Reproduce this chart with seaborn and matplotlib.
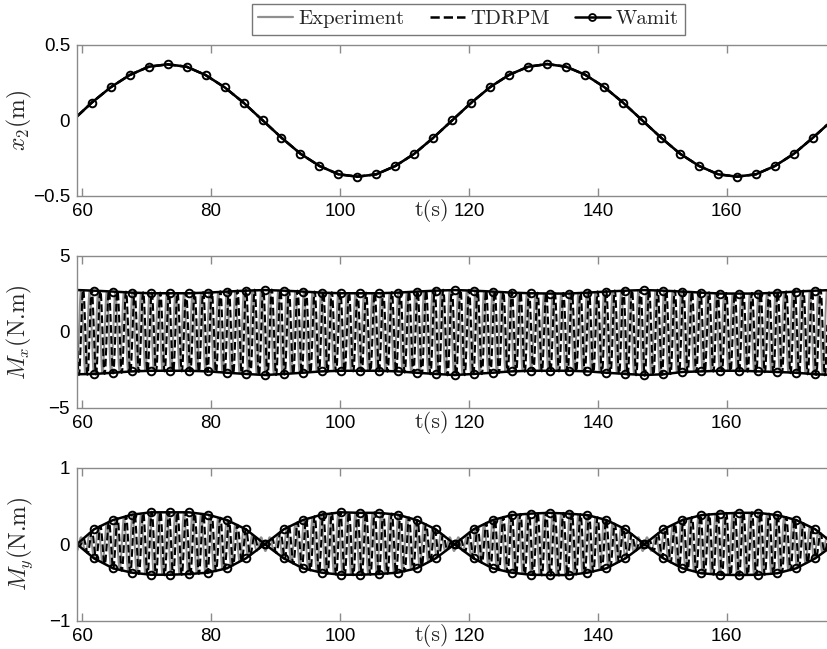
import numpy as np
import pandas as pd
import matplotlib
matplotlib.use("Agg")
import matplotlib.pyplot as plt
import seaborn as sns
from matplotlib.lines import Line2D

# ---------------- data ----------------
x_view = [59.22, 176.0]            # visible time window (s)
edge_t = [59.22, 175.6]            # times where the curves meet the plot edges

# Wamit marker sampling
x2_marker_t0 = 61.50
m_marker_t0 = 61.86
marker_dt = 2.944

# x2 (m) at the Wamit markers
x2_markers = [0.116, 0.218, 0.299, 0.354, 0.370, 0.354, 0.299, 0.218, 0.116, 0.0,
              -0.116, -0.222, -0.303, -0.358, -0.374, -0.358, -0.303, -0.222, -0.116, 0.0,
              0.116, 0.220, 0.301, 0.354, 0.372, 0.354, 0.301, 0.220, 0.116, 0.0,
              -0.116, -0.222, -0.303, -0.358, -0.374, -0.358, -0.303, -0.222, -0.116]
x2_edges = [0.025, -0.03]

# Mx (N.m) Wamit envelope at the markers
mx_upper = [2.70, 2.64, 2.57, 2.53, 2.53, 2.53, 2.57, 2.64, 2.70, 2.74,
            2.70, 2.64, 2.57, 2.53, 2.53, 2.53, 2.57, 2.64, 2.70, 2.74,
            2.70, 2.64, 2.57, 2.53, 2.51, 2.51, 2.57, 2.64, 2.70, 2.74,
            2.70, 2.64, 2.57, 2.51, 2.51, 2.51, 2.57, 2.64, 2.70]
mx_lower = [-2.78, -2.70, -2.61, -2.57, -2.57, -2.57, -2.61, -2.70, -2.78, -2.85,
            -2.78, -2.70, -2.61, -2.57, -2.57, -2.57, -2.61, -2.70, -2.78, -2.85,
            -2.78, -2.70, -2.61, -2.57, -2.57, -2.57, -2.61, -2.70, -2.78, -2.85,
            -2.80, -2.65, -2.61, -2.57, -2.57, -2.61, -2.65, -2.70, -2.80]
mx_upper_edges = [2.74, 2.73]
mx_lower_edges = [-2.80, -2.83]

# My (N.m) Wamit envelope at the markers
my_upper = [0.195, 0.316, 0.386, 0.417, 0.417, 0.417, 0.386, 0.316, 0.195, 0.0,
            0.195, 0.316, 0.386, 0.417, 0.410, 0.410, 0.386, 0.316, 0.195, 0.0,
            0.195, 0.316, 0.380, 0.400, 0.410, 0.400, 0.380, 0.316, 0.195, 0.0,
            0.195, 0.316, 0.380, 0.400, 0.410, 0.410, 0.380, 0.316, 0.195]
my_lower = [-0.185, -0.315, -0.372, -0.399, -0.399, -0.390, -0.372, -0.315, -0.185, 0.0,
            -0.185, -0.315, -0.372, -0.399, -0.399, -0.390, -0.372, -0.315, -0.185, 0.0,
            -0.185, -0.315, -0.372, -0.399, -0.403, -0.403, -0.372, -0.315, -0.185, 0.0,
            -0.185, -0.315, -0.380, -0.399, -0.403, -0.399, -0.380, -0.315, -0.185]
my_upper_edges = [0.0, 0.07]
my_lower_edges = [0.0, -0.07]

# fast oscillation of the measured / TDRPM moments
carrier_period = 1.33      # s
tdrpm_lag = 0.33           # s
my_exp_floor = 0.09        # residual experiment amplitude at the nodes

xticks = [60, 80, 100, 120, 140, 160]
x2_yticks, x2_yticklabels = [-0.5, 0, 0.5], ["\u22120.5", "0", "0.5"]
mx_yticks, mx_yticklabels = [-5, 0, 5], ["\u22125", "0", "5"]
my_yticks, my_yticklabels = [-1, 0, 1], ["\u22121", "0", "1"]
legend_labels = ["Experiment", "TDRPM", "Wamit"]
ylabels = [r"$x_2$(m)", r"$M_x$(N.m)", r"$M_y$(N.m)"]
xlabel = "t(s)"

# ---------------- style ----------------
sns.set_style("white")
plt.rcParams["font.family"] = ["Liberation Sans", "DejaVu Sans"]
plt.rcParams["mathtext.fontset"] = "cm"
spine_col = "#8a8a8a"
exp_col = "#8f8f8f"
serif = "cmr10"

fig = plt.figure(figsize=(8.27, 6.49), dpi=100)
W, H = 827.0, 649.0
px_per_s = 6.447
left_px = 77.0
right_px = left_px + (x_view[1] - x_view[0]) * px_per_s
rows = [(44.7, 195.7), (255.7, 407.7), (467.7, 620.7)]
axes = []
for top, bot in rows:
    ax = fig.add_axes([left_px / W, 1 - bot / H, (right_px - left_px) / W, (bot - top) / H])
    axes.append(ax)

n_mark = len(x2_markers)
x2_mt = x2_marker_t0 + marker_dt * np.arange(n_mark)
m_mt = m_marker_t0 + marker_dt * np.arange(len(mx_upper))


def with_edges(t_mark, vals, edges):
    t = np.concatenate([[edge_t[0]], t_mark, [edge_t[1]]])
    v = np.concatenate([[edges[0]], vals, [edges[1]]])
    return pd.DataFrame({"t": t, "v": v})


wamit_kw = dict(color="black", linewidth=1.8, marker="o", markersize=5.5,
                markerfacecolor="none", markeredgecolor="black",
                markeredgewidth=1.4, markevery=slice(1, -1))

# ---- panel 1: x2 ----
ax = axes[0]
d = with_edges(x2_mt, x2_markers, x2_edges)
sns.lineplot(data=d, x="t", y="v", ax=ax, color=exp_col, linewidth=1.6, sort=False)
sns.lineplot(data=d, x="t", y="v", ax=ax, color="black", linewidth=1.8,
             linestyle="--", sort=False)
sns.lineplot(data=d, x="t", y="v", ax=ax, sort=False, **wamit_kw)

# ---- panels 2 & 3: moments ----
t_dense = np.arange(edge_t[0], edge_t[1], carrier_period / 24)


def osc_frame(up, lo, up_e, lo_e, floor=0.0, lag=0.0, scale=1.0):
    tu = np.concatenate([[edge_t[0]], m_mt, [edge_t[1]]])
    u = np.interp(t_dense, tu, np.concatenate([[up_e[0]], up, [up_e[1]]]))
    l = np.interp(t_dense, tu, np.concatenate([[lo_e[0]], lo, [lo_e[1]]]))
    mid = 0.5 * (u + l)
    half = np.maximum(0.5 * (u - l), floor) * scale
    v = mid + half * np.cos(2 * np.pi * (t_dense - lag) / carrier_period)
    return pd.DataFrame({"t": t_dense, "v": v})


for ax, up, lo, ue, le, floor in [
        (axes[1], mx_upper, mx_lower, mx_upper_edges, mx_lower_edges, 0.0),
        (axes[2], my_upper, my_lower, my_upper_edges, my_lower_edges, my_exp_floor)]:
    de = osc_frame(up, lo, ue, le, floor=floor)
    dt_ = osc_frame(up, lo, ue, le, lag=tdrpm_lag, scale=1.02)
    sns.lineplot(data=de, x="t", y="v", ax=ax, color=exp_col, linewidth=1.4,
                 sort=False)
    sns.lineplot(data=dt_, x="t", y="v", ax=ax, color="black", linewidth=1.5,
                 linestyle="--", sort=False)
    sns.lineplot(data=with_edges(m_mt, up, ue), x="t", y="v", ax=ax, sort=False,
                 **wamit_kw)
    sns.lineplot(data=with_edges(m_mt, lo, le), x="t", y="v", ax=ax, sort=False,
                 **wamit_kw)

# ---- axes cosmetics ----
for ax, yt, ytl, yl, lim in zip(axes,
                                [x2_yticks, mx_yticks, my_yticks],
                                [x2_yticklabels, mx_yticklabels, my_yticklabels],
                                ylabels,
                                [(-0.5, 0.5), (-5, 5), (-1, 1)]):
    ax.set_xlim(*x_view)
    ax.set_ylim(*lim)
    ax.set_xticks(xticks)
    ax.set_xticklabels([str(v) for v in xticks])
    ax.set_yticks(yt)
    ax.set_yticklabels(ytl)
    for s in ax.spines.values():
        s.set_color(spine_col)
        s.set_linewidth(1.0)
        s.set_visible(True)
    ax.tick_params(axis="x", direction="in", length=6, width=1, color=spine_col,
                   top=True, bottom=True, labelsize=13.5, pad=5, labelcolor="black")
    ax.tick_params(axis="y", length=0, labelsize=13.5, pad=5, labelcolor="black")
    ax.set_ylabel(yl, fontsize=17, fontfamily=serif)
    ax.yaxis.label.set_va("center")
    ax.yaxis.set_label_coords(-0.076, 0.5)
    ax.set_xlabel(xlabel, fontsize=16, fontfamily=serif)
    ax.xaxis.label.set_va("center")
    ax.xaxis.set_label_coords(0.471, -0.098)

# ---- legend ----
handles = [Line2D([], [], color=exp_col, linewidth=1.6),
           Line2D([], [], color="black", linewidth=1.8, linestyle="--"),
           Line2D([], [], color="black", linewidth=1.8, marker="o", markersize=5,
                  markerfacecolor="none", markeredgecolor="black", markeredgewidth=1.3)]
leg = fig.legend(handles, legend_labels,
                 loc="upper center", bbox_to_anchor=(468.0 / W, 1 - 3.5 / H),
                 ncol=3, prop={"family": serif, "size": 15}, frameon=True,
                 fancybox=False, handlelength=1.7, handletextpad=0.25,
                 columnspacing=1.2, borderpad=0.3, borderaxespad=0.0)
leg.get_frame().set_edgecolor("#555555")
leg.get_frame().set_linewidth(1.0)

fig.savefig("out.png", dpi=100)
